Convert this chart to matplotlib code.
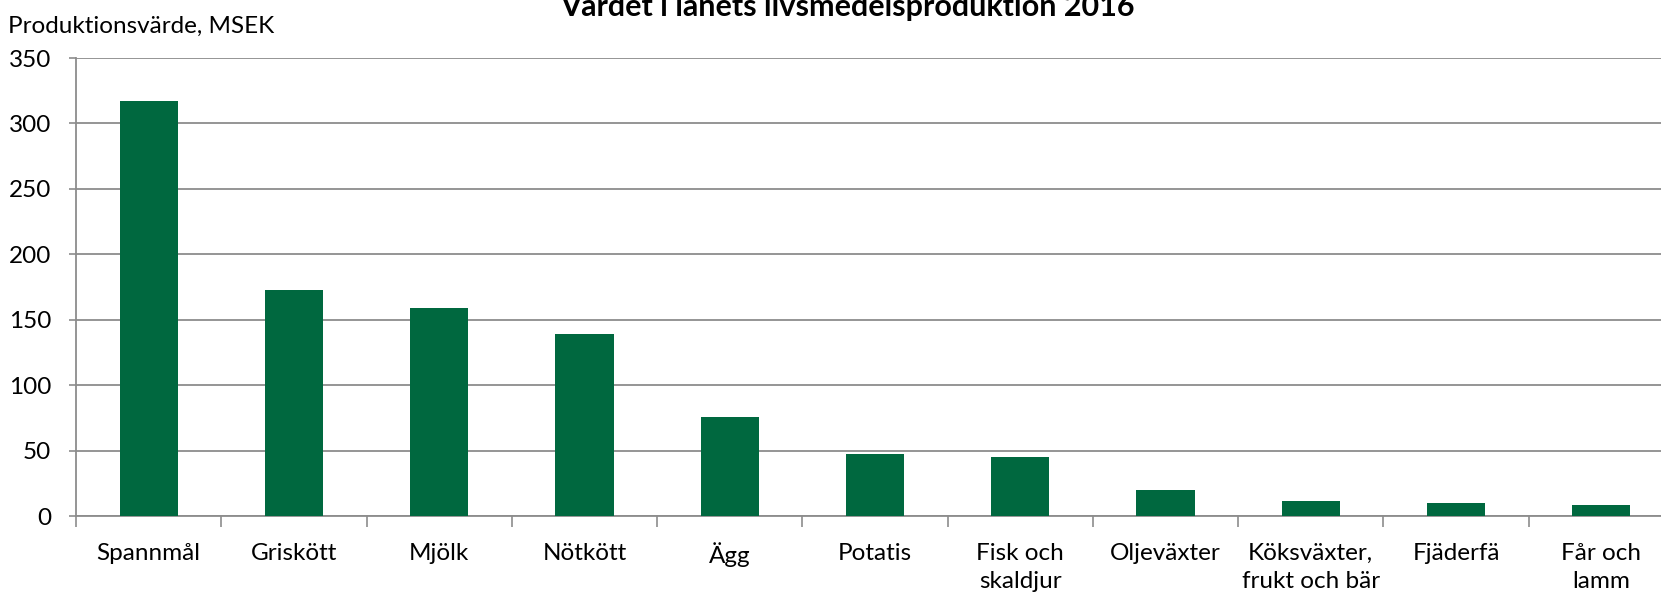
import matplotlib.pyplot as plt
import numpy as np

# Data ---------------------------------------------------------------
categories = ['Spannmål', 'Griskött', 'Mjölk', 'Nötkött', 'Ägg', 'Potatis',
              'Fisk och\nskaldjur', 'Oljeväxter', 'Köksväxter,\nfrukt och bär',
              'Fjäderfä', 'Får och\nlamm']
values = [317.5, 172.5, 159, 139.5, 75.5, 47.5, 45.2, 20.1, 12, 10.2, 8.9]
yticks = [0, 50, 100, 150, 200, 250, 300, 350]

title = 'Värdet i länets livsmedelsproduktion 2016'
ylabel = 'Produktionsvärde, MSEK'

plt.rcParams['font.family'] = ['Lato', 'DejaVu Sans']

fig = plt.figure(figsize=(16.61, 5.92), dpi=100)
ax = fig.add_axes([0.0458, 0.128, 0.962, 0.774])

x = np.arange(len(categories))
ax.bar(x, values, width=0.4, color='#00683F', zorder=3)

ax.set_xlim(-0.5, len(categories) - 0.5)
ax.set_ylim(0, 350)
ax.set_yticks(yticks)
ax.set_yticklabels([str(t) for t in yticks], fontsize=17.5)
ax.yaxis.grid(True, color='#8C8C8C', linewidth=1.3, zorder=0)

# category labels centred, ticks between categories
ax.set_xticks(x)
ax.set_xticklabels(categories, fontsize=17.5, linespacing=1.45)
ax.tick_params(axis='x', length=0, pad=19)
ax.set_xticks(np.arange(len(categories) + 1) - 0.5, minor=True)
ax.tick_params(axis='x', which='minor', length=8, color='#8C8C8C', width=1.2)
ax.tick_params(axis='y', length=5, color='#8C8C8C', width=1.2, pad=13)

for s in ['top', 'right']:
    ax.spines[s].set_visible(False)
for s in ['left', 'bottom']:
    ax.spines[s].set_color('#8C8C8C')
    ax.spines[s].set_linewidth(1.3)

fig.text(0.005, 0.955, ylabel, fontsize=17.5, va='center', ha='left')
fig.text(0.51, 0.973, title, fontsize=22, fontweight='bold', ha='center', va='baseline')

fig.savefig('out.png', dpi=100)
